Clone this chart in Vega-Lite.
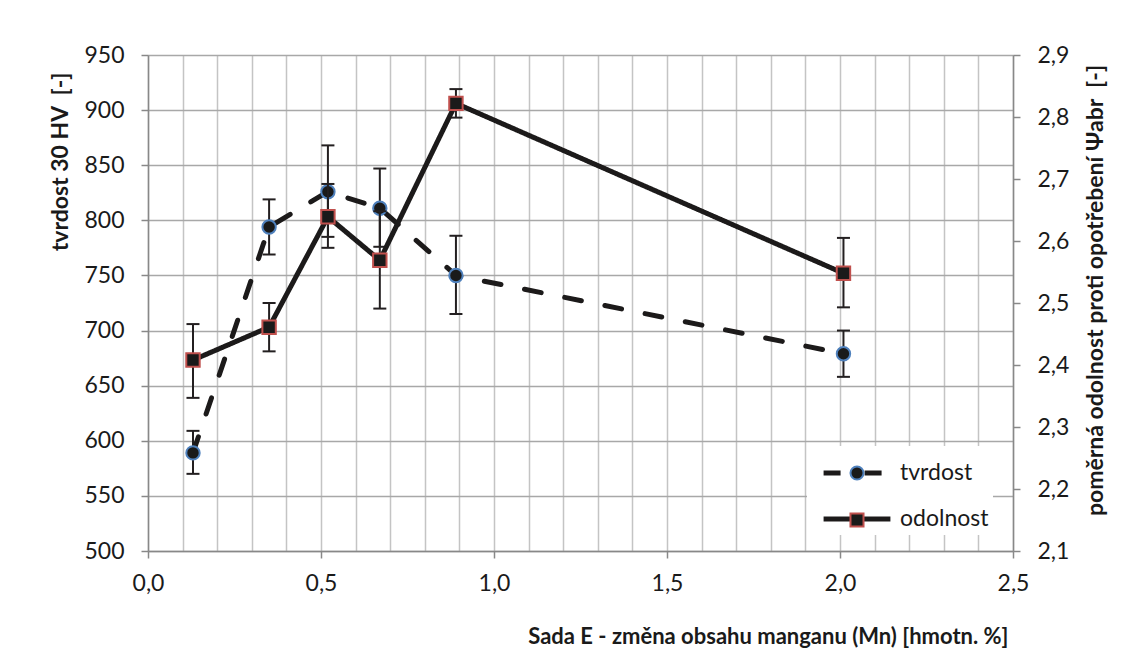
{
  "$schema": "https://vega.github.io/schema/vega-lite/v6.json",
  "width": 865,
  "height": 496,
  "autosize": {"type": "none"},
  "padding": {"left": 148, "top": 55, "right": 116, "bottom": 108},
  "background": "white",
  "config": {
    "view": {"stroke": null},
    "axis": {
      "labelFont": "Lato", "labelFontSize": 23, "labelColor": "#1a1a1a",
      "titleFont": "Lato", "titleFontSize": 23, "titleFontWeight": "bold", "titleColor": "#1a1a1a",
      "domainColor": "#888888", "domainWidth": 1.5, "tickColor": "#888888", "tickWidth": 1.5, "tickSize": 7
    }
  },
  "data": {
    "values": [
      {"series": "tvrdost", "mn": 0.13, "value": 589, "lo": 570, "hi": 609},
      {"series": "tvrdost", "mn": 0.35, "value": 794, "lo": 769, "hi": 819},
      {"series": "tvrdost", "mn": 0.52, "value": 826, "lo": 785, "hi": 868},
      {"series": "tvrdost", "mn": 0.67, "value": 811, "lo": 776, "hi": 847},
      {"series": "tvrdost", "mn": 0.89, "value": 750, "lo": 715, "hi": 786},
      {"series": "tvrdost", "mn": 2.01, "value": 679, "lo": 658, "hi": 700},
      {"series": "odolnost", "mn": 0.13, "value": 2.408, "lo": 2.347, "hi": 2.466},
      {"series": "odolnost", "mn": 0.35, "value": 2.461, "lo": 2.422, "hi": 2.5},
      {"series": "odolnost", "mn": 0.52, "value": 2.639, "lo": 2.589, "hi": 2.692},
      {"series": "odolnost", "mn": 0.67, "value": 2.569, "lo": 2.491, "hi": 2.648},
      {"series": "odolnost", "mn": 0.89, "value": 2.822, "lo": 2.799, "hi": 2.845},
      {"series": "odolnost", "mn": 2.01, "value": 2.548, "lo": 2.493, "hi": 2.605}
    ]
  },
  "encoding": {
    "x": {
      "field": "mn", "type": "quantitative",
      "scale": {"domain": [0, 2.5], "nice": false, "zero": false},
      "axis": {
        "orient": "bottom",
        "values": [0, 0.1, 0.2, 0.3, 0.4, 0.5, 0.6, 0.7, 0.8, 0.9, 1, 1.1, 1.2, 1.3, 1.4, 1.5, 1.6, 1.7, 1.8, 1.9, 2, 2.1, 2.2, 2.3, 2.4, 2.5],
        "labelExpr": "abs(datum.value*2 - round(datum.value*2)) < 0.001 ? replace(format(datum.value, '.1f'), '.', ',') : ''",
        "labelOverlap": false,
        "labelFlush": false,
        "labelPadding": 14,
        "tickOpacity": {"condition": {"test": "abs(datum.value*2 - round(datum.value*2)) < 0.001", "value": 1}, "value": 0},
        "grid": true, "gridColor": "#c4c4c4", "gridWidth": 1.5,
        "title": "Sada E - změna obsahu manganu (Mn) [hmotn. %]",
        "titleFontSize": 22,
        "titleAnchor": "end", "titleAlign": "right", "titleX": 860, "titleY": 85, "titleBaseline": "middle"
      }
    }
  },
  "layer": [
    {
      "transform": [{"filter": "datum.series === 'tvrdost'"}],
      "layer": [
        {
          "mark": {"type": "rule", "strokeWidth": 2, "color": "#231f20"},
          "encoding": {
            "y": {
              "field": "lo", "type": "quantitative", "title": "tvrdost 30 HV\u00a0 [-]",
              "scale": {"domain": [500, 950], "nice": false, "zero": false},
              "axis": {
                "orient": "left",
                "values": [500, 550, 600, 650, 700, 750, 800, 850, 900, 950],
                "format": "d", "grid": true, "gridColor": "#a8a8a8", "gridWidth": 1.5,
                "labelPadding": 17, "titlePadding": 11, "titleAnchor": "end", "titleY": 17
              }
            },
            "y2": {"field": "hi"}
          }
        },
        {
          "mark": {"type": "tick", "orient": "horizontal", "size": 13, "thickness": 2, "color": "#231f20", "opacity": 1},
          "encoding": {"y": {"field": "lo", "type": "quantitative", "title": "tvrdost 30 HV\u00a0 [-]"}}
        },
        {
          "mark": {"type": "tick", "orient": "horizontal", "size": 13, "thickness": 2, "color": "#231f20", "opacity": 1},
          "encoding": {"y": {"field": "hi", "type": "quantitative", "title": "tvrdost 30 HV\u00a0 [-]"}}
        },
        {
          "mark": {"type": "line", "stroke": "#1c1a1a", "strokeWidth": 5, "strokeCap": "round"},
          "encoding": {
            "y": {"field": "value", "type": "quantitative", "title": "tvrdost 30 HV\u00a0 [-]"},
            "strokeDash": {
              "field": "series", "type": "nominal", "sort": "descending",
              "scale": {"range": [[17, 24], [1, 0]]},
              "legend": {
                "title": null, "orient": "none", "legendX": 659, "legendY": 391,
                "padding": 4, "fillColor": "white", "rowPadding": 11,
                "symbolSize": 1681, "symbolStrokeWidth": 5, "symbolStrokeColor": "#1c1a1a", "symbolOffset": 23,
                "symbolType": "M-1.63,0L1.63,0",
                "labelFont": "Lato", "labelFontSize": 23, "labelColor": "#1a1a1a", "labelOffset": 20
              }
            }
          }
        },
        {
          "mark": {"type": "point", "filled": true, "fill": "#1a1a1a", "size": 180, "strokeWidth": 2, "opacity": 1},
          "encoding": {
            "y": {"field": "value", "type": "quantitative", "title": "tvrdost 30 HV\u00a0 [-]"},
            "shape": {
              "field": "series", "type": "nominal",
              "scale": {"domain": ["tvrdost", "odolnost"], "range": ["circle", "square"]},
              "legend": {
                "title": null, "orient": "none", "legendX": 659, "legendY": 402.5,
                "padding": 4, "rowPadding": 23,
                "symbolSize": 170, "symbolStrokeWidth": 2, "symbolOffset": 34.5,
                "symbolFillColor": "#1a1a1a",
                "labelExpr": "''",
                "labelFont": "Lato", "labelFontSize": 23, "labelOpacity": 0, "labelOffset": 20
              }
            },
            "stroke": {
              "field": "series", "type": "nominal",
              "scale": {"domain": ["tvrdost", "odolnost"], "range": ["#4f81bd", "#c0504d"]},
              "legend": {
                "title": null, "orient": "none", "legendX": 659, "legendY": 402.5,
                "padding": 4, "rowPadding": 23,
                "symbolSize": 170, "symbolStrokeWidth": 2, "symbolOffset": 34.5,
                "symbolFillColor": "#1a1a1a",
                "labelExpr": "''",
                "labelFont": "Lato", "labelFontSize": 23, "labelOpacity": 0, "labelOffset": 20
              }
            }
          }
        }
      ]
    },
    {
      "transform": [{"filter": "datum.series === 'odolnost'"}],
      "layer": [
        {
          "mark": {"type": "rule", "strokeWidth": 2, "color": "#231f20"},
          "encoding": {
            "y": {
              "field": "lo", "type": "quantitative", "title": "poměrná odolnost proti opotřebení Ψabr\u00a0 [-]",
              "scale": {"domain": [2.1, 2.9], "nice": false, "zero": false},
              "axis": {
                "orient": "right",
                "values": [2.1, 2.2, 2.3, 2.4, 2.5, 2.6, 2.7, 2.8, 2.9],
                "labelExpr": "replace(format(datum.value, '.1f'), '.', ',')",
                "grid": false, "labelPadding": 17, "titlePadding": 16,
                "titleAngle": 270, "titleBaseline": "top", "titleY": 235
              }
            },
            "y2": {"field": "hi"}
          }
        },
        {
          "mark": {"type": "tick", "orient": "horizontal", "size": 13, "thickness": 2, "color": "#231f20", "opacity": 1},
          "encoding": {"y": {"field": "lo", "type": "quantitative", "title": "poměrná odolnost proti opotřebení Ψabr\u00a0 [-]"}}
        },
        {
          "mark": {"type": "tick", "orient": "horizontal", "size": 13, "thickness": 2, "color": "#231f20", "opacity": 1},
          "encoding": {"y": {"field": "hi", "type": "quantitative", "title": "poměrná odolnost proti opotřebení Ψabr\u00a0 [-]"}}
        },
        {
          "mark": {"type": "line", "stroke": "#1c1a1a", "strokeWidth": 5, "strokeCap": "round"},
          "encoding": {
            "y": {"field": "value", "type": "quantitative", "title": "poměrná odolnost proti opotřebení Ψabr\u00a0 [-]"},
            "strokeDash": {"field": "series", "type": "nominal", "sort": "descending"}
          }
        },
        {
          "mark": {"type": "point", "filled": true, "fill": "#1a1a1a", "size": 180, "strokeWidth": 2, "opacity": 1},
          "encoding": {
            "y": {"field": "value", "type": "quantitative", "title": "poměrná odolnost proti opotřebení Ψabr\u00a0 [-]"},
            "shape": {"field": "series", "type": "nominal"},
            "stroke": {"field": "series", "type": "nominal"}
          }
        }
      ]
    }
  ],
  "resolve": {"scale": {"y": "independent"}}
}
